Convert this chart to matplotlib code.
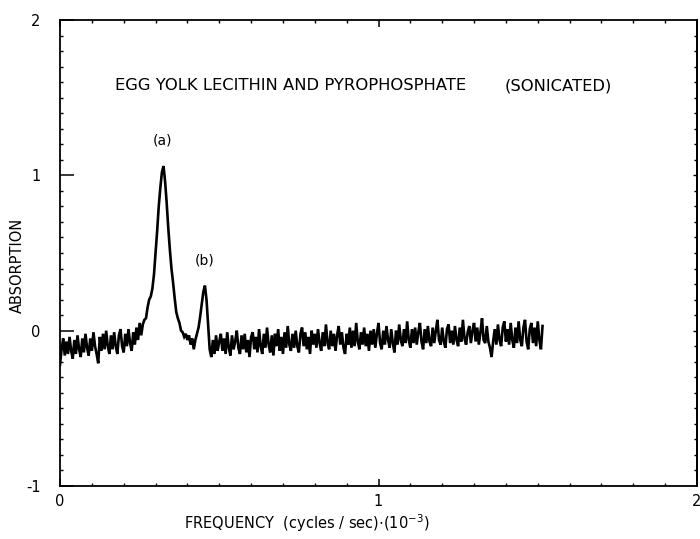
import numpy as np
import matplotlib
matplotlib.use("Agg")
import matplotlib.pyplot as plt
from matplotlib.ticker import MultipleLocator

# ---- data ----
freq_step = 0.005  # spacing of the sampled spectrum (x 10^-3 cycles/sec)
absorption = [
    # 0.000 - 0.245
    -0.22, -0.12, -0.05, -0.16, -0.07, -0.15, -0.04, -0.13, -0.18, -0.06,
    -0.15, -0.03, -0.12, -0.17, -0.05, -0.14, -0.02, -0.11, -0.16, -0.05,
    -0.13, -0.01, -0.10, -0.15, -0.21, -0.04, -0.13, -0.02, -0.12, 0.00,
    -0.10, -0.15, -0.03, -0.12, -0.01, -0.10, -0.15, -0.03, 0.01, -0.10,
    -0.14, -0.02, -0.10, 0.01, -0.08, -0.13, -0.01, -0.09, 0.02, -0.06,
    # 0.250 - 0.495 (peaks a and b)
    0.05, -0.03, 0.04, 0.07, 0.08, 0.15, 0.20, 0.22, 0.27, 0.36,
    0.50, 0.64, 0.80, 0.92, 1.02, 1.06, 0.96, 0.82, 0.66, 0.52,
    0.40, 0.31, 0.21, 0.12, 0.08, 0.05, 0.00, -0.01, -0.04, -0.02,
    -0.06, -0.03, -0.09, -0.05, -0.12, -0.06, -0.02, 0.02, 0.09, 0.17,
    0.25, 0.29, 0.20, 0.04, -0.12, -0.17, -0.06, -0.15, -0.03, -0.13,
    # 0.500 - 1.520
    -0.07,
    -0.02, -0.13, -0.05, -0.15, -0.01, -0.11, -0.16, -0.03, -0.12, -0.07,
    0.00, -0.11, -0.15, -0.03, -0.12, -0.02, -0.14, -0.06, -0.17, -0.04,
    -0.01, -0.12, -0.04, -0.14, 0.01, -0.10, -0.15, -0.02, -0.11, 0.02,
    -0.09, -0.14, -0.03, -0.16, -0.02, -0.10, 0.01, -0.13, -0.04, -0.15,
    -0.01, -0.11, 0.03, -0.09, -0.13, -0.02, -0.11, 0.00, -0.10, -0.14,
    -0.02, 0.02, -0.10, -0.01, -0.12, -0.04, -0.15, 0.00, -0.09, -0.02,
    -0.11, 0.01, -0.08, -0.13, -0.01, -0.10, 0.04, -0.08, -0.12, 0.00,
    -0.10, -0.02, -0.13, -0.03, 0.03, -0.09, -0.01, -0.11, -0.15, -0.02,
    -0.09, 0.02, -0.11, 0.00, -0.10, 0.05, -0.07, -0.12, -0.01, -0.09,
    0.02, -0.10, -0.02, -0.13, 0.00, -0.09, 0.01, -0.11, -0.02, 0.05,
    -0.08, -0.12, 0.00, -0.09, 0.03, -0.06, -0.11, 0.01, -0.08, -0.14,
    0.00, -0.09, 0.04, -0.06, -0.10, 0.01, -0.08, 0.06, -0.06, -0.11,
    0.01, -0.08, 0.02, -0.09, -0.01, 0.05, -0.07, -0.12, 0.01, -0.08,
    0.03, -0.07, -0.10, 0.02, -0.08, 0.00, 0.07, -0.06, -0.09, 0.02,
    -0.07, -0.11, 0.01, 0.04, -0.08, 0.00, -0.09, 0.03, -0.06, -0.10,
    0.02, -0.07, 0.07, -0.05, -0.09, -0.01, 0.03, -0.08, 0.00, 0.05,
    -0.07, 0.02, -0.09, -0.01, 0.08, -0.06, -0.08, 0.03, -0.07, -0.11,
    -0.17, -0.07, 0.01, -0.09, 0.04, -0.06, -0.10, 0.02, 0.06, -0.07,
    0.01, -0.09, 0.05, -0.06, -0.11, 0.02, -0.08, 0.06, -0.06, -0.10,
    0.02, 0.07, -0.07, -0.12, 0.01, 0.05, -0.08, 0.02, -0.10, 0.06,
    -0.06, -0.12, 0.03,
]
frequency = np.arange(len(absorption)) * freq_step

x_ticks = [0, 1, 2]
x_tick_labels = ["0", "1", "2"]
y_ticks = [-1, 0, 1, 2]
y_tick_labels = ["-1", "0", "1", "2"]

title_left = "EGG YOLK LECITHIN AND PYROPHOSPHATE"
title_right = "(SONICATED)"
peak_labels = ["(a)", "(b)"]
peak_label_pos = [(0.323, 1.225), (0.455, 0.45)]
x_label = r"FREQUENCY  (cycles / sec)$\cdot$(10$^{-3}$)"
y_label = "ABSORPTION"

# ---- figure ----
plt.rcParams['font.family'] = ['DejaVu Sans']
fig = plt.figure(figsize=(7.0, 5.39), dpi=100)
ax = fig.add_axes([60/700, 53/539, 637/700, 466/539])

ax.plot(frequency, absorption, color='black', lw=1.9, solid_joinstyle='miter')

ax.set_xlim(0, 2)
ax.set_ylim(-1, 2)

for s in ax.spines.values():
    s.set_linewidth(1.3)

ax.set_xticks(x_ticks)
ax.set_xticklabels(x_tick_labels, fontsize=10.5)
ax.set_yticks(y_ticks)
ax.set_yticklabels(y_tick_labels, fontsize=10.5)
ax.xaxis.set_minor_locator(MultipleLocator(0.1))
ax.yaxis.set_minor_locator(MultipleLocator(0.1))

ax.tick_params(axis='x', which='major', direction='in', length=5, width=1.1,
               top=True, pad=6)
ax.tick_params(axis='x', which='minor', direction='in', length=2.5, width=1.0,
               top=True)
ax.tick_params(axis='y', which='major', direction='in', length=10, width=1.1,
               right=False, pad=14)
ax.tick_params(axis='y', which='minor', direction='in', length=2.5, width=1.0,
               right=True)
ax2 = ax.secondary_yaxis('right')
ax2.set_yticks([0, 1])
ax2.set_yticklabels([])
ax2.tick_params(direction='in', length=3, width=1.0)
ax2.spines['right'].set_linewidth(1.3)

fig.text(17/700, 1 - 265/539, y_label, fontsize=10.5, rotation=90,
         ha='center', va='center')
fig.text(307/700, 1 - 523/539, x_label, fontsize=10.5,
         ha='center', va='center')

ax.text(0.172, 1.576, title_left, fontsize=11.8, ha='left', va='center')
ax.text(1.395, 1.576, title_right, fontsize=11.8, ha='left', va='center')
for lab, (px, py) in zip(peak_labels, peak_label_pos):
    ax.text(px, py, lab, fontsize=10, ha='center', va='center')

fig.savefig("out.png", dpi=100)
